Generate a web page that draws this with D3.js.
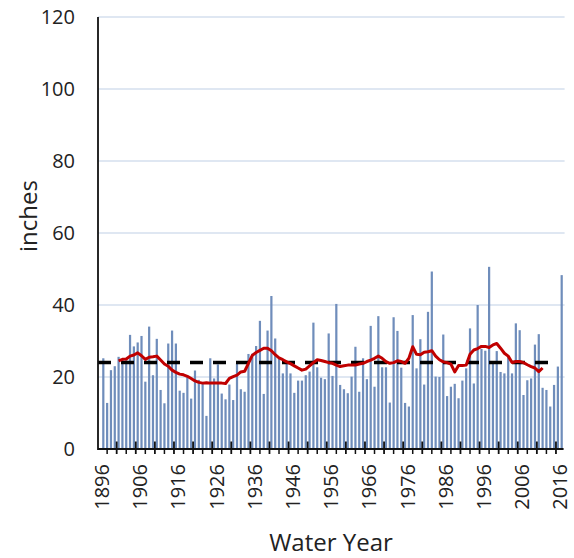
<!DOCTYPE html>
<html>
<head>
<meta charset="utf-8">
<script src="https://d3js.org/d3.v7.min.js"></script>
<style>
body { margin: 0; background: #fff; }
text { font-family: "Open Sans", "DejaVu Sans", sans-serif; fill: #222; }
</style>
</head>
<body>
<svg id="chart" width="574" height="558"></svg>
<script>
"use strict";
// annual totals, water years 1896-2016 (inches)
var firstYear = 1896;
var precip = [
	25.2, 12.8, 21.9, 23.0, 25.6, 24.8, 24.7, 31.7, 28.5, 29.6,
	31.4, 18.7, 34.0, 20.5, 30.6, 16.4, 12.7, 29.3, 32.9, 29.3,
	16.2, 15.6, 19.9, 14.0, 21.8, 19.2, 18.1, 9.2, 25.2, 19.6,
	23.5, 15.4, 13.8, 17.9, 13.6, 23.7, 16.6, 15.9, 26.4, 26.5,
	28.6, 35.6, 15.3, 32.9, 42.5, 30.7, 25.2, 21.0, 24.3, 21.0,
	15.6, 19.0, 19.0, 20.5, 21.5, 35.1, 22.7, 19.8, 19.4, 32.1,
	20.3, 40.3, 17.8, 16.6, 15.5, 20.1, 28.4, 15.9, 25.2, 19.4,
	34.2, 17.3, 36.9, 22.7, 22.7, 12.9, 36.6, 32.8, 22.6, 12.8,
	11.8, 37.2, 22.4, 30.5, 17.9, 38.1, 49.3, 20.1, 20.0, 31.8,
	14.7, 17.3, 18.1, 14.1, 19.0, 22.4, 33.5, 18.2, 40.0, 27.8,
	27.3, 50.6, 24.3, 27.2, 21.4, 21.0, 25.5, 21.0, 34.9, 33.0,
	15.0, 19.1, 19.6, 29.0, 31.9, 17.0, 16.4, 11.8, 17.8, 22.9,
	48.3
];
// moving average, plotted 1900-2011
var avgStart = 1900;
var movingAvg = [
	24.5, 24.9, 25.0, 25.8, 26.1, 26.7, 25.9, 24.9, 25.5, 25.6,
	25.8, 24.7, 23.6, 23.0, 21.9, 21.3, 20.8, 20.6, 20.2, 19.6,
	18.9, 18.5, 18.3, 18.4, 18.3, 18.3, 18.3, 18.3, 18.2, 19.6,
	20.1, 20.5, 21.4, 21.6, 23.8, 26.0, 26.8, 27.4, 28.0, 28.0,
	27.3, 26.2, 25.3, 24.8, 24.2, 23.7, 23.1, 22.5, 21.9, 22.2,
	23.1, 24.0, 24.8, 24.6, 24.3, 24.0, 23.8, 23.3, 22.9, 23.1,
	23.3, 23.3, 23.3, 23.6, 23.8, 24.3, 24.7, 25.2, 25.8, 25.2,
	24.3, 23.8, 24.0, 24.5, 24.3, 23.8, 25.2, 28.4, 26.3, 26.2,
	26.9, 27.0, 27.3, 25.8, 24.8, 24.2, 24.0, 23.6, 21.4, 23.2,
	23.2, 23.3, 26.3, 27.5, 27.9, 28.5, 28.5, 28.2, 28.9, 29.3,
	28.0, 26.6, 25.8, 24.0, 24.3, 24.3, 24.0, 23.4, 22.9, 22.5,
	21.5, 22.5
];
var meanValue = 24.0;
var yTicks = [0, 20, 40, 60, 80, 100, 120];
var xTickLabels = ["1896", "1906", "1916", "1926", "1936", "1946", "1956",
	"1966", "1976", "1986", "1996", "2006", "2016"];

var years = precip.map(function(d, i) { return firstYear + i; });

var plotLeft = 101.4, plotRight = 563.6, plotTop = 17, plotBottom = 449;
var axisLeft = 98;

var svg = d3.select("#chart");

var x = d3.scaleBand()
	.domain(years)
	.range([plotLeft, plotRight])
	.paddingInner(0.42)
	.paddingOuter(0.21);
var step = x.step();
function xc(year) { return x(year) + x.bandwidth() / 2; }

var y = d3.scaleLinear()
	.domain([0, 120])
	.range([plotBottom, plotTop]);

// gridlines
svg.append("g").selectAll("line")
	.data(yTicks.filter(function(d) { return d > 0; }))
	.enter().append("line")
	.attr("x1", axisLeft).attr("x2", plotRight + 1)
	.attr("y1", function(d) { return y(d); })
	.attr("y2", function(d) { return y(d); })
	.attr("stroke", "#d5dfee")
	.attr("stroke-width", 1.4);

// bars
svg.append("g").selectAll("rect")
	.data(precip)
	.enter().append("rect")
	.attr("x", function(d, i) { return x(years[i]); })
	.attr("width", x.bandwidth())
	.attr("y", function(d) { return y(d); })
	.attr("height", function(d) { return y(0) - y(d); })
	.attr("fill", "#6f8dbb");

// mean line
svg.append("line")
	.attr("x1", axisLeft).attr("x2", plotRight - 6)
	.attr("y1", y(meanValue)).attr("y2", y(meanValue))
	.attr("stroke", "#000")
	.attr("stroke-width", 3.5)
	.attr("stroke-dasharray", "13,10");

// moving average
var line = d3.line()
	.x(function(d, i) { return xc(avgStart + i); })
	.y(function(d) { return y(d); });
svg.append("path")
	.datum(movingAvg)
	.attr("d", line)
	.attr("fill", "none")
	.attr("stroke", "#c00000")
	.attr("stroke-width", 3)
	.attr("stroke-linejoin", "round");

// axes lines
svg.append("line")
	.attr("x1", axisLeft).attr("x2", axisLeft)
	.attr("y1", plotTop).attr("y2", plotBottom + 1)
	.attr("stroke", "#111").attr("stroke-width", 1.8);
svg.append("line")
	.attr("x1", axisLeft).attr("x2", plotRight)
	.attr("y1", plotBottom).attr("y2", plotBottom)
	.attr("stroke", "#111").attr("stroke-width", 2);

// tick marks: tall every 5 categories, short ones between
var tall = d3.range(4, 121, 5);
var minor = d3.range(1.5, 118, 5);
svg.append("g").selectAll("line")
	.data(tall)
	.enter().append("line")
	.attr("x1", function(d) { return plotLeft + d * step; })
	.attr("x2", function(d) { return plotLeft + d * step; })
	.attr("y1", plotBottom - 7.5).attr("y2", plotBottom + 5)
	.attr("stroke", "#111").attr("stroke-width", 1.8);
svg.append("g").selectAll("line")
	.data(minor)
	.enter().append("line")
	.attr("x1", function(d) { return plotLeft + d * step; })
	.attr("x2", function(d) { return plotLeft + d * step; })
	.attr("y1", plotBottom).attr("y2", plotBottom + 5)
	.attr("stroke", "#111").attr("stroke-width", 1.5);

// y tick labels
svg.append("g").selectAll("text")
	.data(yTicks)
	.enter().append("text")
	.attr("x", 75)
	.attr("y", function(d) { return y(d); })
	.attr("dy", "0.36em")
	.attr("text-anchor", "end")
	.attr("font-size", 20)
	.text(function(d) { return d; });

// x tick labels
svg.append("g").selectAll("text")
	.data(xTickLabels)
	.enter().append("text")
	.attr("transform", function(d) { return "translate(" + (xc(+d) - 1.5) + "," + 464 + ") rotate(-90)"; })
	.attr("dy", "0.36em")
	.attr("text-anchor", "end")
	.attr("font-size", 20)
	.text(function(d) { return d; });

// axis titles
svg.append("text")
	.attr("x", 331).attr("y", 551)
	.attr("text-anchor", "middle")
	.attr("font-size", 24)
	.text("Water Year");
svg.append("text")
	.attr("transform", "translate(37,216) rotate(-90)")
	.attr("text-anchor", "middle")
	.attr("font-size", 24)
	.text("inches");
</script>
</body>
</html>
